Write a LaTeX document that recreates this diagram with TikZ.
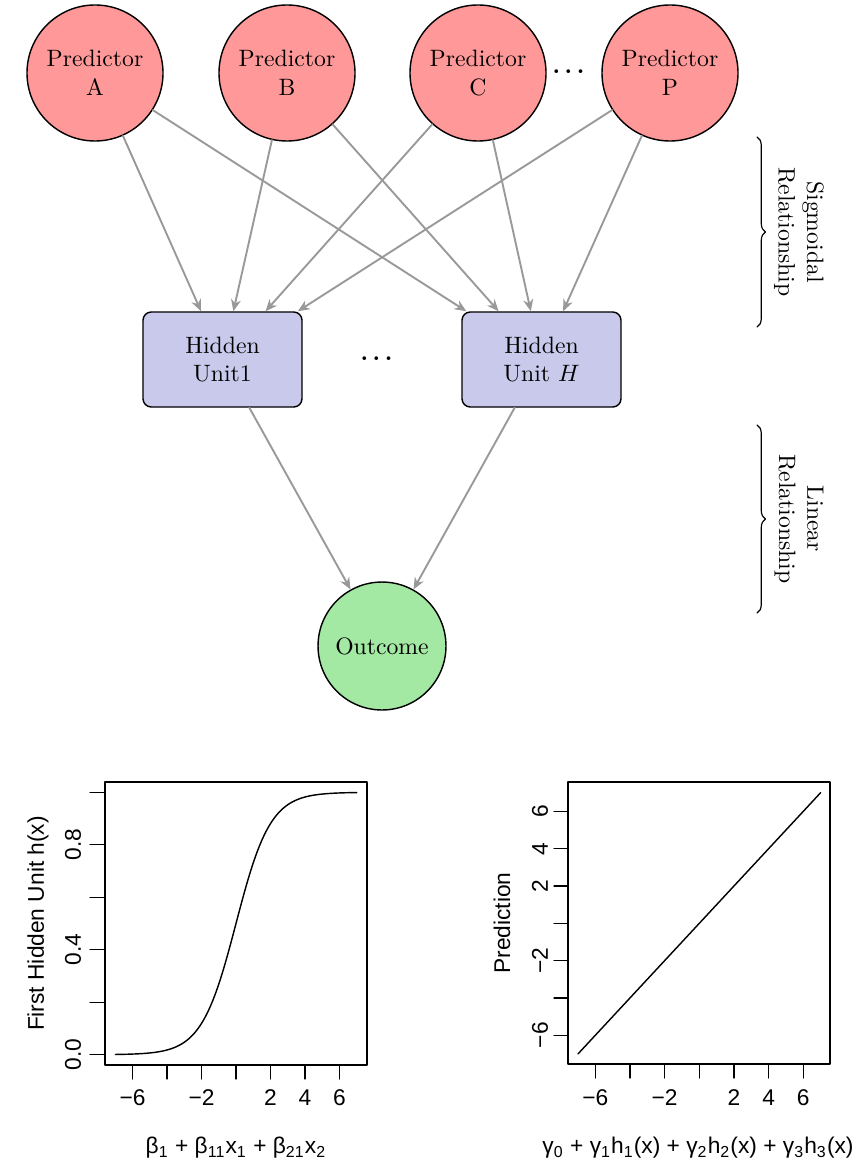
\documentclass[tikz,border=0pt]{standalone}
\usepackage{amsmath}
\usepackage{fontspec}
\newfontfamily\plotfont{Liberation Sans}
\usetikzlibrary{arrows.meta,decorations.pathreplacing}
\definecolor{predred}{HTML}{FF9999}
\definecolor{hidblue}{HTML}{C9C9EC}
\definecolor{outgreen}{HTML}{A3E9A3}
\definecolor{linkgray}{HTML}{999999}
\tikzset{
  pred/.style={circle,draw,line width=0.6pt,fill=predred,minimum size=57.4pt,inner sep=0pt,align=center},
  hidden/.style={rectangle,rounded corners=3.5pt,draw,line width=0.6pt,fill=hidblue,minimum width=67.1pt,minimum height=40.1pt,align=center},
  outcome/.style={circle,draw,line width=0.6pt,fill=outgreen,minimum size=54pt,inner sep=0pt},
  link/.style={->,draw=linkgray,line width=0.8pt},
  bracepath/.style={decorate,decoration={brace,amplitude=3.6pt},line width=0.5pt},
  ticklab/.style={font=\plotfont\fontsize{9.6}{11}\selectfont,inner sep=0pt},
  dotsnode/.style={inner sep=0pt,font=\boldmath}
}

\begin{document}
\begin{tikzpicture}[line cap=round,line join=round,>={Stealth[length=5pt,width=4.2pt,inset=1.6pt]},x=0.422pt,y=-0.422pt]
\useasboundingbox (0,0) rectangle (852,1172);

\node[pred] (predA) at (95,73) {Predictor\\A};
\node[pred] (predB) at (287,73) {Predictor\\B};
\node[pred] (predC) at (478,73) {Predictor\\C};
\node[pred] (predP) at (670,73) {Predictor\\P};
\node[dotsnode] (dotsP) at (568.5,71.7) {$\ldots$};
\node[hidden] (hidOne) at (222.5,359.5) {Hidden\\Unit1};
\node[hidden] (hidH) at (541.5,359.5) {Hidden\\Unit $H$};
\node[dotsnode] (dotsH) at (376.5,358.3) {$\ldots$};
\node[outcome] (outc) at (382,646) {Outcome};

\draw[link] (predA) -- (hidOne);
\draw[link] (predA) -- (hidH);
\draw[link] (predB) -- (hidOne);
\draw[link] (predB) -- (hidH);
\draw[link] (predC) -- (hidOne);
\draw[link] (predC) -- (hidH);
\draw[link] (predP) -- (hidOne);
\draw[link] (predP) -- (hidH);
\draw[link] (hidOne) -- (outc);
\draw[link] (hidH) -- (outc);

\coordinate (sigTop) at (757,137);
\coordinate (sigBot) at (757,327);
\coordinate (linTop) at (757,425);
\coordinate (linBot) at (757,613);
\draw[bracepath] (sigTop) -- (sigBot);
\draw[bracepath] (linTop) -- (linBot);
\node[rotate=-90,align=center] (sigLab) at (799,232) {Sigmoidal\\Relationship};
\node[rotate=-90,align=center] (linLab) at (799,519) {Linear\\Relationship};

% left panel: sigmoid
\draw[line width=0.75pt] (105,782) rectangle (367,1065);
\draw[line width=0.5pt] (90,1054.7)--(105,1054.7) (90,1002.2)--(105,1002.2) (90,949.7)--(105,949.7)
  (90,897.3)--(105,897.3) (90,844.8)--(105,844.8) (90,792.3)--(105,792.3);
\draw[line width=0.5pt] (132.5,1065)--(132.5,1079) (167,1065)--(167,1079) (201.5,1065)--(201.5,1079)
  (236,1065)--(236,1079) (270.5,1065)--(270.5,1079) (305,1065)--(305,1079) (339.5,1065)--(339.5,1079);
\draw[line width=0.6pt,domain=-7:7,samples=120,smooth] plot ({236+17.25*\x},{1054.7-262.4/(1+exp(-\x))});
\node[ticklab,rotate=90] (ly0) at (73,1054.7) {0.0};
\node[ticklab,rotate=90] (ly4) at (73,949.7) {0.4};
\node[ticklab,rotate=90] (ly8) at (73,844.8) {0.8};
\node[ticklab] (lxm6) at (132.5,1098) {−6};
\node[ticklab] (lxm2) at (201.5,1098) {−2};
\node[ticklab] (lx2) at (270.5,1098) {2};
\node[ticklab] (lx4) at (305,1098) {4};
\node[ticklab] (lx6) at (339.5,1098) {6};
\node[ticklab,rotate=90] (lylab) at (38,923.5) {First Hidden Unit h(x)};
\node[ticklab] (lxlab) at (236,1148) {β\textsubscript{1} + β\textsubscript{11}x\textsubscript{1} + β\textsubscript{21}x\textsubscript{2}};

% right panel: linear
\draw[line width=0.75pt] (568,782) rectangle (830,1064);
\draw[line width=0.5pt] (554,811.4)--(568,811.4) (554,848.7)--(568,848.7) (554,886)--(568,886)
  (554,923.3)--(568,923.3) (554,960.6)--(568,960.6) (554,997.9)--(568,997.9) (554,1035.2)--(568,1035.2);
\draw[line width=0.5pt] (595.3,1064)--(595.3,1078) (630,1064)--(630,1078) (664.6,1064)--(664.6,1078)
  (699.3,1064)--(699.3,1078) (734,1064)--(734,1078) (768.6,1064)--(768.6,1078) (803.3,1064)--(803.3,1078);
\draw[line width=0.6pt] (578,1053.9) -- (820.6,792.7);
\node[ticklab,rotate=90] (ry6) at (540,811.4) {6};
\node[ticklab,rotate=90] (ry4) at (540,848.7) {4};
\node[ticklab,rotate=90] (ry2) at (540,886) {2};
\node[ticklab,rotate=90] (rym2) at (540,960.6) {−2};
\node[ticklab,rotate=90] (rym6) at (540,1035.2) {−6};
\node[ticklab] (rxm6) at (595.3,1098) {−6};
\node[ticklab] (rxm2) at (664.6,1098) {−2};
\node[ticklab] (rx2) at (734,1098) {2};
\node[ticklab] (rx4) at (768.6,1098) {4};
\node[ticklab] (rx6) at (803.3,1098) {6};
\node[ticklab,rotate=90] (rylab) at (502,923) {Prediction};
\node[ticklab] (rxlab) at (698,1148) {γ\textsubscript{0} + γ\textsubscript{1}h\textsubscript{1}(x) + γ\textsubscript{2}h\textsubscript{2}(x) + γ\textsubscript{3}h\textsubscript{3}(x)};
\end{tikzpicture}
\end{document}
